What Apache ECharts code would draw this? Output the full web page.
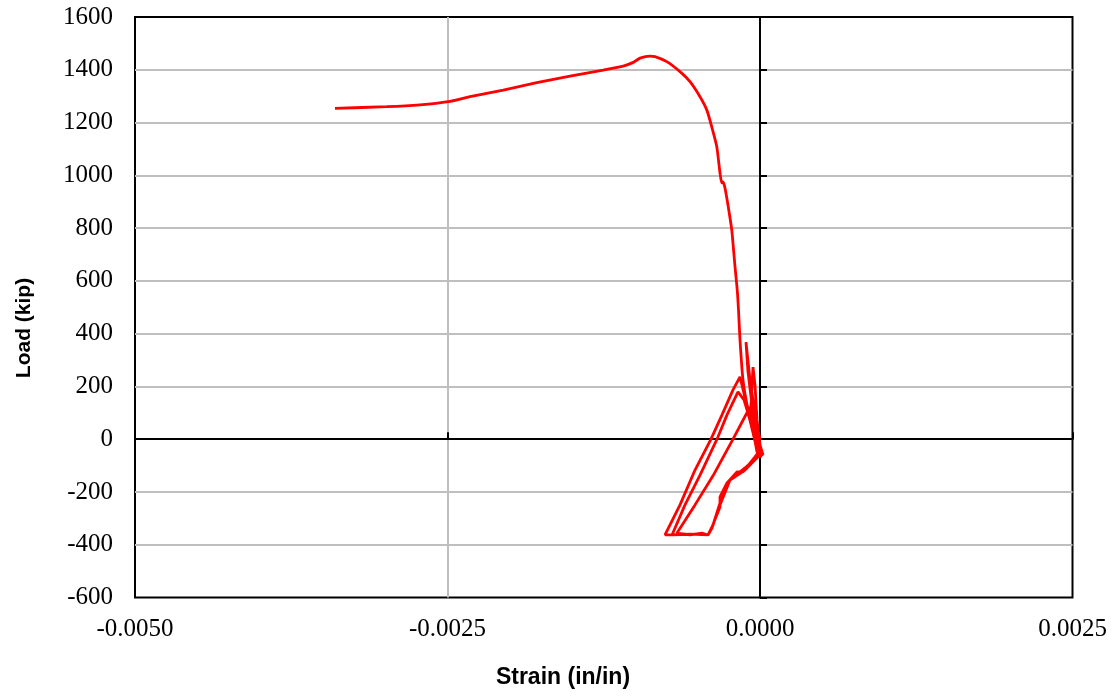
<!DOCTYPE html>
<html>
<head>
<meta charset="utf-8">
<script src="https://cdn.jsdelivr.net/npm/echarts@6/dist/echarts.min.js"></script>
<style>
  html, body { margin: 0; padding: 0; background: #ffffff; }
  #chart { width: 1115px; height: 696px; }
</style>
</head>
<body>
<div id="chart"></div>
<script>
// Cyclic part of the record (time order): strain (in/in) and load (kip)
const cyclicStrain = [
  0, -0.000024, -0.000056, -0.00008, -0.000112, -0.000096, -0.000064, -0.000032, 0, 0.000024,
  -0.000024, -0.000056, -0.000072, -0.000056, -0.00004, -0.000024, 0, 0.000024,
  -0.000064, -0.00008, -0.000216, -0.000376, -0.00052, -0.000664, -0.00056, -0.000464, -0.000416,
  -0.000384, -0.00032, -0.00032, -0.000264, -0.000184, -0.000136, -0.00004, -0.000016, 0.000024,
  -0.000032, -0.000096, -0.000144, -0.00016,
  -0.000216, -0.000304, -0.000392, -0.00052, -0.00064, -0.00076, -0.00056, -0.000416,
  -0.000376, -0.000312, -0.00024, -0.00012, -0.000016, 0.000016,
  -0.000056, -0.000128, -0.000176,
  -0.000264, -0.000344, -0.00048, -0.0006, -0.000704, -0.00048, -0.000416,
  -0.000384, -0.00032, -0.00024, -0.00012, -0.000016, 0.000016
];
const cyclicLoad = [
  0, 54, 149, 224, 368, 255, 130, 16, -41, -60,
  -49, 35, 130, 273, 205, 73, -22, -60,
  73, 122, 0, -139, -249, -356, -363, -356, -363,
  -333, -257, -219, -166, -124, -124, -67, -52, -60,
  -3, 111, 205, 236,
  187, 92, 0, -117, -249, -363, -360, -363,
  -325, -230, -155, -109, -64, -60,
  35, 149, 179,
  92, 0, -136, -249, -363, -360, -363,
  -337, -249, -155, -117, -67, -64
];
// Final monotonic loading to peak and post-peak branch
const envelopeStrain = [
  0.000016, -0.00004, -0.000096, -0.000136, -0.00016, -0.000172, -0.000182, -0.0002, -0.000226,
  -0.000254, -0.00028, -0.000296, -0.000306, -0.00032, -0.000346, -0.000386, -0.000426, -0.00048,
  -0.00056, -0.00064, -0.000746, -0.00084, -0.00088, -0.00096, -0.001014, -0.001094, -0.001254,
  -0.00152, -0.001786, -0.002054, -0.00232, -0.002494, -0.00272, -0.002986, -0.0034
];
const envelopeLoad = [
  -64, -3, 111, 224, 376, 490, 565, 654, 793,
  881, 952, 975, 971, 1009, 1109, 1184, 1248, 1298,
  1355, 1393, 1431, 1450, 1452, 1444, 1428, 1414, 1399,
  1376, 1351, 1323, 1298, 1279, 1267, 1260, 1254
];
const xTicks = { min: -0.005, max: 0.0025, interval: 0.0025 };
const yTicks = { min: -600, max: 1600, interval: 200 };
const xTitle = 'Strain (in/in)';
const yTitle = 'Load (kip)';

const cyclicPoints = cyclicStrain.map((s, i) => [s, cyclicLoad[i]]);
const envelopePoints = envelopeStrain.map((s, i) => [s, envelopeLoad[i]]);
const chart = echarts.init(document.getElementById('chart'), null, { renderer: 'canvas' });
const labelFont = { fontFamily: '"Liberation Serif", serif', fontSize: 25, color: '#000' };
const redLine = { color: '#ff0000', width: 2.8 };

chart.setOption({
  animation: false,
  backgroundColor: '#ffffff',
  grid: {
    left: 135, top: 17, width: 937.5, height: 580.5,
    show: true, borderColor: '#000', borderWidth: 2, backgroundColor: 'transparent'
  },
  xAxis: [
    {
      type: 'value', position: 'bottom',
      min: xTicks.min, max: xTicks.max, interval: xTicks.interval,
      axisLine: { show: false, onZero: false },
      axisTick: { show: false },
      axisLabel: Object.assign({ margin: 19, formatter: v => v.toFixed(4) }, labelFont),
      splitLine: { show: true, showMinLine: false, showMaxLine: false, lineStyle: { color: '#bfbfbf', width: 2 } }
    },
    {
      type: 'value', position: 'bottom',
      min: xTicks.min, max: xTicks.max, interval: xTicks.interval,
      axisLine: { show: true, onZero: true, onZeroAxisIndex: 0, lineStyle: { color: '#000', width: 2 } },
      axisTick: { show: true, inside: true, length: 7, lineStyle: { color: '#000', width: 2 } },
      axisLabel: { show: false },
      splitLine: { show: false }
    }
  ],
  yAxis: [
    {
      type: 'value', position: 'left',
      min: yTicks.min, max: yTicks.max, interval: yTicks.interval,
      axisLine: { show: false, onZero: false },
      axisTick: { show: false },
      axisLabel: Object.assign({ margin: 22, formatter: v => String(v) }, labelFont),
      splitLine: { show: true, showMinLine: false, showMaxLine: false, lineStyle: { color: '#bfbfbf', width: 2 } }
    },
    {
      type: 'value', position: 'left',
      min: yTicks.min, max: yTicks.max, interval: yTicks.interval,
      axisLine: { show: true, onZero: true, onZeroAxisIndex: 0, lineStyle: { color: '#000', width: 2 } },
      axisTick: { show: true, inside: true, length: 7, lineStyle: { color: '#000', width: 2 } },
      axisLabel: { show: false },
      splitLine: { show: false }
    }
  ],
  graphic: [
    {
      type: 'text', x: 24, y: 328, rotation: Math.PI / 2,
      style: { text: yTitle, fontFamily: '"Liberation Sans", Arial, sans-serif', fontWeight: 'bold', fontSize: 21, fill: '#000', align: 'center', verticalAlign: 'middle' }
    },
    {
      type: 'text', x: 563, y: 678,
      style: { text: xTitle, fontFamily: '"Liberation Sans", Arial, sans-serif', fontWeight: 'bold', fontSize: 23, fill: '#000', align: 'center', verticalAlign: 'middle' }
    }
  ],
  series: [
    {
      type: 'line', xAxisIndex: 0, yAxisIndex: 0,
      data: cyclicPoints, showSymbol: false, smooth: false,
      lineStyle: redLine, z: 5
    },
    {
      type: 'line', xAxisIndex: 0, yAxisIndex: 0,
      data: envelopePoints, showSymbol: false, smooth: 0.2,
      lineStyle: redLine, z: 5
    }
  ]
});
</script>
</body>
</html>
